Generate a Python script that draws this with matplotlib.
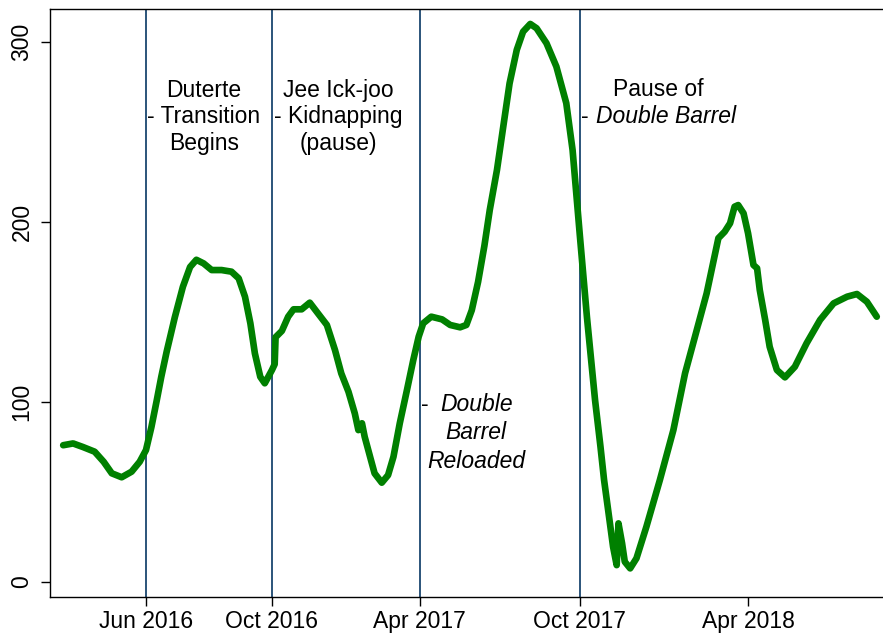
import numpy as np
import matplotlib
matplotlib.use("Agg")
import matplotlib.pyplot as plt
import matplotlib.dates as mdates

plt.rcParams["font.family"] = ["Liberation Sans", "DejaVu Sans"]

# days since 1 Jun 2016 and the plotted value
START = np.datetime64("2016-06-01")
day_offset = [
    -92, -81, -70, -57, -47, -38, -27, -16, -7, 0, 6, 12, 17, 23, 32, 41,
    49, 56, 64, 73, 84, 95, 103, 110, 116, 121, 127, 132, 140, 143, 144,
    151, 158, 164, 173, 182, 191, 201, 210, 217, 225, 232, 236, 240, 243,
    249, 254, 262, 269, 275, 282, 290, 297, 303, 308, 317, 329, 338, 349,
    356, 362, 369, 376, 382, 390, 397, 404, 412, 419, 427, 434, 445, 456,
    467, 474, 482, 490, 499, 505, 509, 514, 519, 523, 525, 529, 532,
    538, 545, 556, 571, 586, 599, 612, 623, 636, 643, 649, 654, 658, 664,
    669, 675, 679, 682, 688, 693, 701, 710, 721, 734, 749, 764, 779, 790,
    801, 812,
]
values = [
    76, 77, 75, 72.4, 66.8, 60.4, 58.2, 61.3, 66.8, 73.3, 86, 101, 114, 128, 147, 164,
    175, 179, 177, 173.3, 173.3, 172.4, 168.7, 158.5, 143.7, 127, 114, 110.4, 117.8, 121, 136,
    139.5, 147.4, 151.5, 151.5, 155.2, 149.3, 142.8, 128.9, 115.9, 105.7, 93.7, 84.4, 88.2, 80.7,
    69.6, 60.4, 55.2, 59.4, 69.6, 88.2, 106.7, 123.3, 136.3, 143.7, 147.4, 145.9, 142.8, 141.5,
    142.8, 151, 166.7, 186.7, 206.7, 228.9, 253, 277, 295.6, 305.7, 310, 307.6, 299.3, 286.3,
    266, 240, 193, 147, 101, 75.2, 56.7, 38.2, 19.6, 9.4, 32.6, 21.5, 11.3,
    7.6, 13.2, 30.7, 56.7, 84.4, 116, 140, 160.4, 191, 194.6, 199.3, 208.5, 209.4, 204.8,
    193.7, 176.1, 174.3, 162.2, 145.6, 130.7, 117.8, 113.7, 119.6, 132.6, 145.6, 154.8, 158.5, 160,
    155.7, 147.4,
]

# event lines double as the x tick positions
event_offset = [0, 140, 304, 482, 669]
event_lines = event_offset[:4]
tick_labels = ["Jun 2016", "Oct 2016", "Apr 2017", "Oct 2017", "Apr 2018"]

BASE = mdates.date2num(START)


def to_date(offsets):
    return BASE + np.asarray(offsets, dtype=float)


x = to_date(day_offset)

fig = plt.figure(figsize=(8.83, 6.35), dpi=100)
ax = fig.add_axes([49.5 / 883, 38 / 635, (890 - 49.5) / 883, 588 / 635])

for xv in to_date(event_lines):
    ax.axvline(xv, color="#1a476f", lw=1.3, zorder=1)

ax.plot(x, values, color="#008000", lw=4.8, solid_joinstyle="round",
        solid_capstyle="round", zorder=3)

ax.set_xlim(*to_date([-107.2, 826.7]))
ax.set_ylim(-8.3, 318.3)

ax.set_xticks(to_date(event_offset))
ax.set_xticklabels(tick_labels)
ax.set_yticks([0, 100, 200, 300])
ax.set_yticklabels(["0", "100", "200", "300"], rotation=90, va="center")
ax.tick_params(axis="both", labelsize=16.5, length=6.5, width=1.0, color="black")
ax.tick_params(axis="x", pad=3)
ax.tick_params(axis="y", pad=5)
for s in ax.spines.values():
    s.set_linewidth(1.0)

fs = 16.5
# Duterte transition
d = to_date([64.4])[0]
ax.text(d, 269.6, "Duterte", ha="center", va="baseline", fontsize=fs)
ax.text(d, 255.0, "- Transition", ha="center", va="baseline", fontsize=fs)
ax.text(d, 240.0, "Begins", ha="center", va="baseline", fontsize=fs)

# Jee Ick-joo
d = to_date([214])[0]
ax.text(d, 269.6, "Jee Ick-joo", ha="center", va="baseline", fontsize=fs)
ax.text(d, 255.0, "- Kidnapping", ha="center", va="baseline", fontsize=fs)
ax.text(d, 240.0, "(pause)", ha="center", va="baseline", fontsize=fs)

# Double Barrel Reloaded
ax.text(to_date([305.5])[0], 95.2, "-", ha="left", va="baseline", fontsize=fs)
d = to_date([367])[0]
ax.text(d, 95.2, "Double", ha="center", va="baseline", fontsize=fs, style="italic")
ax.text(d, 79.3, "Barrel", ha="center", va="baseline", fontsize=fs, style="italic")
ax.text(d, 63.2, "Reloaded", ha="center", va="baseline", fontsize=fs, style="italic")

# Pause of Double Barrel
ax.text(to_date([569])[0], 270.0, "Pause of", ha="center", va="baseline", fontsize=fs)
ax.text(to_date([483.5])[0], 255.0, "-", ha="left", va="baseline", fontsize=fs)
ax.text(to_date([578])[0], 255.0, "Double Barrel", ha="center", va="baseline",
        fontsize=fs, style="italic")

fig.savefig("out.png", dpi=100)
